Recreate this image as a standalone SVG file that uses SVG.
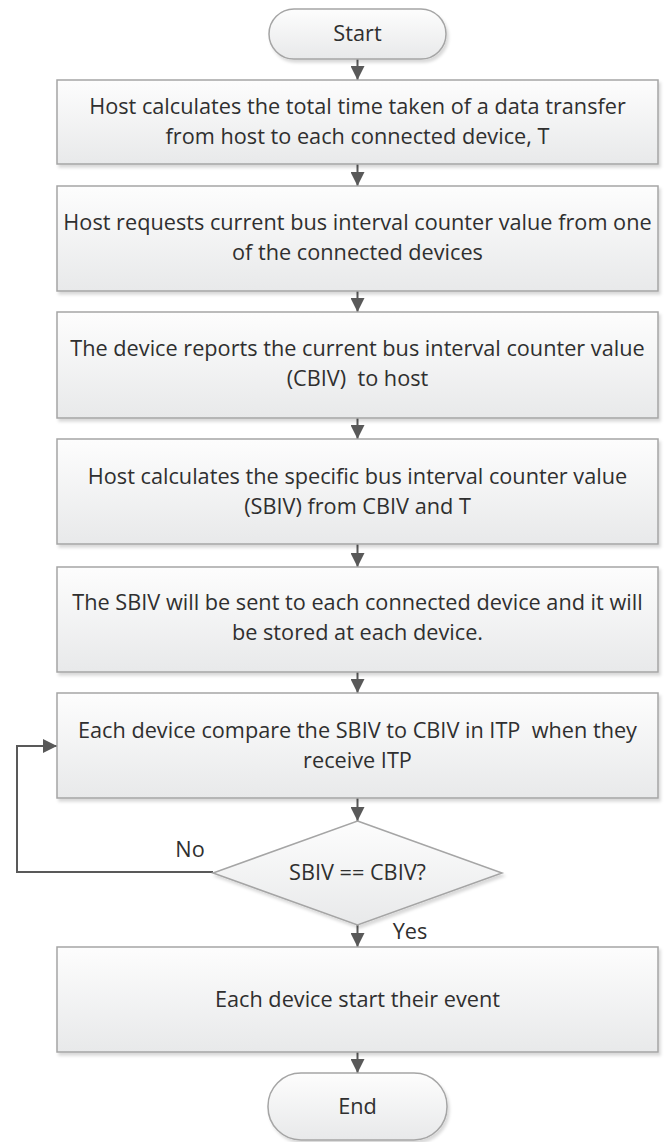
<svg xmlns="http://www.w3.org/2000/svg" width="667" height="1142" viewBox="0 0 667 1142">
<style>
.box{fill:url(#g);stroke:#a5a5a5;stroke-width:1.5;filter:url(#sh)}
.t{font-family:"Open Sans","Liberation Sans",Arial,sans-serif;font-size:21.7px;fill:#2f2f2f;text-anchor:middle;white-space:pre}
.c{fill:none;stroke:#595959;stroke-width:2}
</style>
<defs>
<linearGradient id="g" x1="0" y1="0" x2="0" y2="1">
<stop offset="0" stop-color="#fdfdfd"/>
<stop offset="1" stop-color="#e8e9ea"/>
</linearGradient>
<filter id="sh" x="-5%" y="-5%" width="110%" height="120%">
<feDropShadow dx="2" dy="3" stdDeviation="1.5" flood-color="#000" flood-opacity="0.15"/>
</filter>
<marker id="a" viewBox="0 0 14 14" refX="14" refY="7" markerWidth="14" markerHeight="14" markerUnits="userSpaceOnUse" orient="auto">
<path d="M0,0 L14,7 L0,14 Z" fill="#595959"/>
</marker>
</defs>

<g id="connectors">
<line class="c" x1="357.5" y1="59" x2="357.5" y2="80" marker-end="url(#a)"/>
<line class="c" x1="357.5" y1="164" x2="357.5" y2="186" marker-end="url(#a)"/>
<line class="c" x1="357.5" y1="291" x2="357.5" y2="312" marker-end="url(#a)"/>
<line class="c" x1="357.5" y1="418" x2="357.5" y2="439" marker-end="url(#a)"/>
<line class="c" x1="357.5" y1="544" x2="357.5" y2="567" marker-end="url(#a)"/>
<line class="c" x1="357.5" y1="672" x2="357.5" y2="693" marker-end="url(#a)"/>
<line class="c" x1="357.5" y1="798" x2="357.5" y2="821" marker-end="url(#a)"/>
<line class="c" x1="357.5" y1="925" x2="357.5" y2="947" marker-end="url(#a)"/>
<line class="c" x1="357.5" y1="1052" x2="357.5" y2="1073" marker-end="url(#a)"/>
<path class="c" d="M213,872 H17 V746 H57" stroke-width="2.5" stroke="#555" marker-end="url(#a)"/>
<text class="t" x="190" y="857">No</text>
<text class="t" x="410" y="939">Yes</text>
</g>

<g id="start">
<rect x="269" y="9" width="177" height="50" rx="25" class="box"/>
<text class="t" x="357.5" y="41">Start</text>
</g>

<g id="step1">
<rect x="57" y="80" width="601" height="84" class="box"/>
<text class="t" x="357.5" y="114">Host calculates the total time taken of a data transfer</text>
<text class="t" x="357.5" y="144">from host to each connected device, T</text>
</g>

<g id="step2">
<rect x="57" y="186" width="601" height="105" class="box"/>
<text class="t" x="357.5" y="230">Host requests current bus interval counter value from one</text>
<text class="t" x="357.5" y="260">of the connected devices</text>
</g>

<g id="step3">
<rect x="57" y="312" width="601" height="106" class="box"/>
<text class="t" x="357.5" y="356">The device reports the current bus interval counter value</text>
<text class="t" x="357.5" y="386">(CBIV)  to host</text>
</g>

<g id="step4">
<rect x="57" y="439" width="601" height="105" class="box"/>
<text class="t" x="357.5" y="484">Host calculates the specific bus interval counter value</text>
<text class="t" x="357.5" y="514">(SBIV) from CBIV and T</text>
</g>

<g id="step5">
<rect x="57" y="567" width="601" height="105" class="box"/>
<text class="t" x="357.5" y="610">The SBIV will be sent to each connected device and it will</text>
<text class="t" x="357.5" y="640">be stored at each device.</text>
</g>

<g id="step6">
<rect x="57" y="693" width="601" height="105" class="box"/>
<text class="t" x="357.5" y="738">Each device compare the SBIV to CBIV in ITP  when they</text>
<text class="t" x="357.5" y="768">receive ITP</text>
</g>

<g id="decision">
<polygon points="357.5,821 502,873 357.5,925 213,873" class="box"/>
<text class="t" x="357.5" y="880">SBIV == CBIV?</text>
</g>

<g id="step7">
<rect x="57" y="947" width="601" height="105" class="box"/>
<text class="t" x="357.5" y="1007">Each device start their event</text>
</g>

<g id="end">
<rect x="268" y="1073" width="179" height="67" rx="33" class="box"/>
<text class="t" x="357.5" y="1114">End</text>
</g>
</svg>
